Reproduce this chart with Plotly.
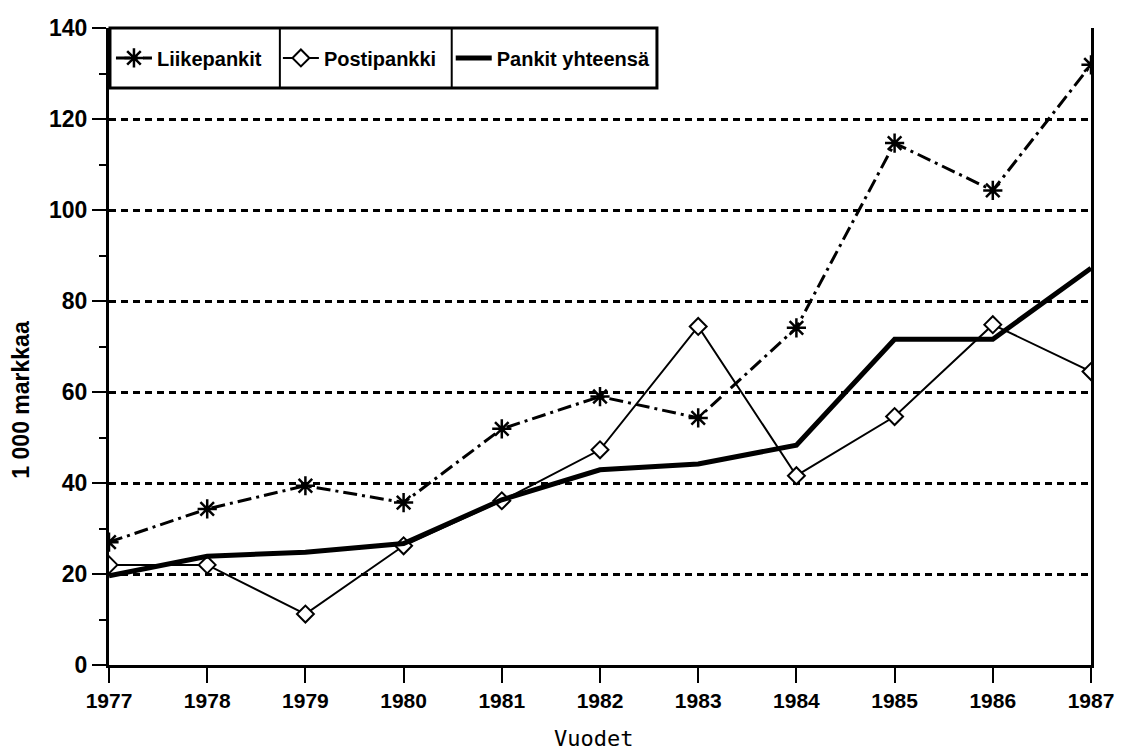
import plotly.graph_objects as go

years = [1977, 1978, 1979, 1980, 1981, 1982, 1983, 1984, 1985, 1986, 1987]
liikepankit = [27, 34.3, 39.4, 35.7, 51.9, 59, 54.3, 74.1, 114.7, 104.3, 131.9]
postipankki = [22, 22, 11.2, 26.2, 36.1, 47.3, 74.4, 41.6, 54.6, 74.8, 64.5]
pankit_yht = [19.6, 23.9, 24.8, 26.7, 36.3, 42.9, 44.2, 48.3, 71.6, 71.6, 87.2]

FONT = "Liberation Sans Narrow, Liberation Sans, Arial, sans-serif"

fig = go.Figure()
fig.add_trace(go.Scatter(
    x=years, y=liikepankit, mode="lines+markers", name="Liikepankit", legend="legend",
    line=dict(color="black", width=3, dash="14px,5px,3px,5px"),
    marker=dict(symbol="asterisk-open", size=16, color="black", line=dict(color="black", width=2.5)),
))
fig.add_trace(go.Scatter(
    x=years, y=postipankki, mode="lines+markers", name="Postipankki", legend="legend2",
    line=dict(color="black", width=2),
    marker=dict(symbol="diamond", size=13, color="white", line=dict(color="black", width=2)),
))
fig.add_trace(go.Scatter(
    x=years, y=pankit_yht, mode="lines", name="Pankit yhteensä", legend="legend3",
    line=dict(color="black", width=5),
))

# legend frame with dividers
shapes = [
    dict(type="rect", xref="paper", yref="paper", x0=0.001, x1=0.558, y0=0.906, y1=1.0,
         line=dict(color="black", width=3), fillcolor="white", layer="below"),
    dict(type="line", xref="paper", yref="paper", x0=0.174, x1=0.174, y0=0.906, y1=1.0,
         line=dict(color="black", width=2)),
    dict(type="line", xref="paper", yref="paper", x0=0.349, x1=0.349, y0=0.906, y1=1.0,
         line=dict(color="black", width=2)),
]

def leg(x):
    return dict(x=x, y=0.953, xanchor="left", yanchor="middle", orientation="h",
                bgcolor="rgba(0,0,0,0)", borderwidth=0, itemwidth=36,
                font=dict(family=FONT, size=20, weight="bold"))

fig.update_layout(
    width=1126, height=750,
    paper_bgcolor="white", plot_bgcolor="white",
    margin=dict(l=109, r=25, t=28, b=85),
    font=dict(family=FONT, color="black", size=20),
    showlegend=True,
    legend=leg(0.002), legend2=leg(0.172), legend3=leg(0.348),
    shapes=shapes,
    xaxis=dict(
        range=[1977, 1987], dtick=1, tick0=1977, showgrid=False, zeroline=False,
        showline=True, linecolor="black", linewidth=3,
        ticks="outside", ticklen=15, tickwidth=2, tickcolor="black",
        tickfont=dict(family=FONT, size=21, weight="bold"),
    ),
    yaxis=dict(
        range=[0, 140], dtick=20, showgrid=True, gridcolor="black", gridwidth=2.5,
        griddash="7px,5px", zeroline=False,
        showline=True, linecolor="black", linewidth=3, mirror=True,
        ticks="outside", ticklen=14, tickwidth=2, tickcolor="black",
        minor=dict(dtick=10, ticks="outside", ticklen=7, tickwidth=2, tickcolor="black", showgrid=False),
        tickfont=dict(family=FONT, size=23, weight="bold"),
    ),
    annotations=[
        dict(text="1 000 markkaa", xref="paper", yref="paper", x=-0.09, y=0.416,
             textangle=-90, showarrow=False, xanchor="center", yanchor="middle",
             font=dict(family=FONT, size=23, weight="bold")),
        dict(text="Vuodet", xref="paper", yref="paper", x=0.493, y=-0.115,
             showarrow=False, xanchor="center", yanchor="middle",
             font=dict(family="DejaVu Sans Mono, monospace", size=22)),
    ],
)

fig.write_html("out.html", config={"displayModeBar": False},
               post_script="document.body.style.margin='0';")
